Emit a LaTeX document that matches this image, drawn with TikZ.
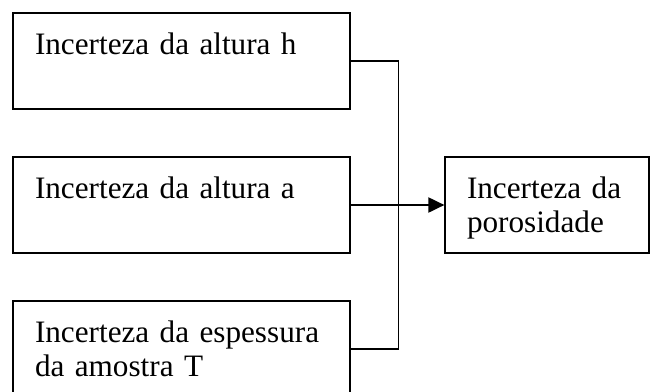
\documentclass[tikz,border=0pt]{standalone}
\usepackage{fontspec}
\setmainfont{Liberation Serif}
\usetikzlibrary{positioning,arrows.meta}

\begin{document}
\begin{tikzpicture}[x=0.5pt,y=-0.5pt,node distance=72pt,on grid,
		box/.style={draw,line width=0.6pt,inner xsep=11pt,inner ysep=0pt,
			text width=146.5pt,align=left,text height=20.5pt,text depth=27.5pt,
			font=\fontsize{15.6}{17.3}\selectfont},
		resbox/.style={box,text width=80pt},
		link/.style={line width=0.6pt}]
		\useasboundingbox (0,0) rectangle (650,392);
		\node[box] (alth) at (181.5,61) {Incerteza da altura h} ;
		\node[box] (alta) [below=of alth] {Incerteza da altura a} ;
		\node[box] (esp) [below=of alta] {Incerteza da espessura\\da amostra T} ;
		\node[resbox] (poro) [right=182.75pt of alta] {Incerteza da\\porosidade} ;
		\coordinate (join) at ([xshift=24pt]alta.east) ;
		\draw[link] (alth.east) -| (join) ;
		\draw[link] (esp.east) -| (join) ;
		\draw[link] (alta.east) -- (join) ;
		\draw[line width=1pt,-{Triangle[length=8pt,width=7.5pt]}] (join) -- (poro.west) ;
	\end{tikzpicture}
\end{document}
